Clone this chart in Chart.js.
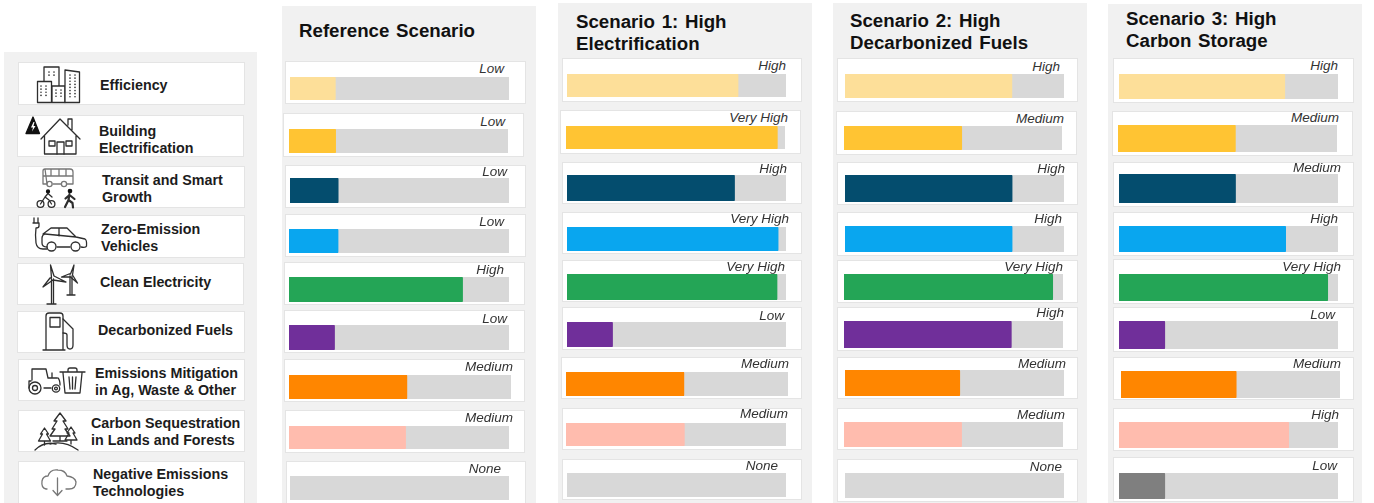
<!DOCTYPE html>
<html>
<head>
<meta charset="utf-8">
<script src="https://cdn.jsdelivr.net/npm/chart.js@4"></script>
<style>
  html, body { margin: 0; padding: 0; background: #fff; }
  body { position: relative; width: 1374px; height: 503px; overflow: hidden; font-family: "Liberation Sans", Arial, sans-serif; filter: blur(.4px); }
  .panel { position: absolute; background: #f1f1f1; }
  .card { position: absolute; box-sizing: border-box; background: #fff; border: 1.5px solid #e4e4e4; }
  .title { position: absolute; font-weight: bold; font-size: 18.7px; line-height: 22px; word-spacing: 1.5px; color: #111; white-space: pre; }
  .cat { position: absolute; font-weight: bold; font-size: 14.3px; line-height: 16.6px; color: #1c1c1c; white-space: pre; }
  .level { position: absolute; font-style: italic; font-size: 13.5px; line-height: 14px; color: #333; white-space: nowrap; transform: translateX(-100%); }
  canvas { position: absolute; }
  #icons { position: absolute; left: 0; top: 0; }
  #icons * { fill: none; stroke: #2e2e2e; stroke-width: 1.3; stroke-linejoin: round; stroke-linecap: round; }
  #icons .solid { fill: #111; stroke: #111; }
  #icons .bolt { fill: #fff; stroke: none; }
  #icons .white { fill: #fff; }
  #icons .dots { stroke-width: 1.6; stroke-dasharray: .1 3; }
  #icons .soft { stroke: #777; }
</style>
</head>
<body>
<script>
const categories = [
  'Efficiency', 'Building\nElectrification', 'Transit and Smart\nGrowth', 'Zero-Emission\nVehicles',
  'Clean Electricity', 'Decarbonized Fuels', 'Emissions Mitigation\nin Ag, Waste & Other',
  'Carbon Sequestration\nin Lands and Forests', 'Negative Emissions\nTechnologies'
];
const barColors = ['#fddf99', '#ffc433', '#044d6e', '#09a6ef', '#24a556', '#702f9a', '#ff8600', '#ffbcae', '#7f7f7f'];
const trackColor = '#d8d8d8';

const scenarioTitles = ['Reference Scenario', 'Scenario 1: High\nElectrification', 'Scenario 2: High\nDecarbonized Fuels', 'Scenario 3: High\nCarbon Storage'];

const refLevels = ['Low', 'Low', 'Low', 'Low', 'High', 'Low', 'Medium', 'Medium', 'None'];
const s1Levels = ['High', 'Very High', 'High', 'Very High', 'Very High', 'Low', 'Medium', 'Medium', 'None'];
const s2Levels = ['High', 'Medium', 'High', 'High', 'Very High', 'High', 'Medium', 'Medium', 'None'];
const s3Levels = ['High', 'Medium', 'Medium', 'High', 'Very High', 'Low', 'Medium', 'High', 'Low'];

// share of the grey track that is filled
const refValues = [20.7, 21.3, 22, 22.3, 78.9, 20.7, 53.1, 53, 0];
const s1Values = [78.1, 96.5, 76.5, 96.4, 95.9, 20.8, 53.1, 53.8, 0];
const s2Values = [76.2, 54, 76.3, 76.3, 95.3, 76.4, 52.4, 53.7, 0];
const s3Values = [75.7, 53.6, 53.2, 76.1, 95.3, 20.9, 52.6, 77.5, 20.9];
const trackMax = 100;

const allLevels = [refLevels, s1Levels, s2Levels, s3Levels];
const allValues = [refValues, s1Values, s2Values, s3Values];

// page layout only: panels, title spots, and for each row the card box, the plot box, the label anchor
const panelBoxes = [[282, 6, 536, 503], [558, 3, 812, 503], [833, 3, 1087, 503], [1108, 4, 1362, 503]];
const titleSpots = [[299, 20], [576, 11], [850, 10], [1126, 8]];
const rowBoxes = [
  [
    [285,61,526,104, 290,77,509,100, 504,69], [283,113,524,157, 289,129,508,153, 505,122],
    [285,165,526,208, 290,178,509,203, 507,172], [285,214,526,257, 289,229,509,253, 504,222],
    [284,262,525,305, 289,277,509,302, 504,270], [284,310,525,353, 289,325,509,350, 507,319],
    [284,359,525,402, 289,375,511,399, 513,367], [285,410,525,453, 289,426,509,449, 513,418],
    [286,461,526,510, 290,476,509,500, 501,469]
  ],
  [
    [562,58,802,102, 567,74,786,97, 786,66], [560,110,801,154, 566,126,785,149, 788,118],
    [562,162,802,204, 567,175,786,201, 787,169], [562,212,802,254, 567,227,786,251, 789,219],
    [562,260,802,302, 567,274,786,300, 785,267], [562,307,802,350, 567,322,786,347, 784,316],
    [561,357,802,399, 566,372,788,396, 789,364], [562,408,802,450, 566,423,786,446, 788,414],
    [562,459,802,500, 567,473,786,497, 778,466]
  ],
  [
    [837,58,1078,102, 845,74,1064,98, 1060,67], [836,111,1077,155, 844,126,1062,150, 1064,119],
    [837,162,1078,205, 845,175,1064,202, 1065,169], [837,212,1078,256, 845,226,1064,252, 1062,219],
    [837,260,1078,303, 844,274,1063,300, 1063,267], [837,307,1078,351, 844,321,1063,348, 1064,313],
    [837,357,1078,399, 845,370,1064,396, 1066,364], [837,408,1078,450, 844,422,1063,447, 1065,415],
    [837,459,1078,502, 845,473,1064,498, 1062,467]
  ],
  [
    [1113,58,1354,103, 1119,74,1338,99, 1338,66], [1112,111,1353,156, 1118,125,1337,152, 1339,118],
    [1113,162,1354,207, 1119,174,1338,203, 1341,168], [1113,212,1354,256, 1119,226,1338,252, 1338,219],
    [1113,259,1354,304, 1119,274,1338,301, 1341,267], [1113,307,1354,352, 1119,321,1338,349, 1335,315],
    [1113,357,1354,400, 1121,371,1340,398, 1341,364], [1113,408,1354,451, 1119,422,1338,448, 1339,415],
    [1113,457,1354,502, 1119,473,1338,499, 1337,466]
  ]
];
const catCards = [[18,62,245,105], [17,115,244,157], [18,166,245,208], [18,215,245,258], [17,263,244,305], [17,311,245,353], [18,359,245,401], [18,410,245,452], [18,461,245,510]];
const catText = [[100,77], [99,123], [102,172], [101,221], [100,274], [98,322], [95,365], [91,415], [93,466]];

function add(cls, left, top, width, height, text) {
  const d = document.createElement('div');
  d.className = cls;
  d.style.left = left + 'px';
  d.style.top = top + 'px';
  if (width !== null) d.style.width = width + 'px';
  if (height !== null) d.style.height = height + 'px';
  if (text) d.textContent = text;
  document.body.appendChild(d);
  return d;
}

function addBar(box, value, color, name) {
  const c = document.createElement('canvas');
  c.width = box[6] - box[4];
  c.height = box[7] - box[5];
  c.style.left = box[4] + 'px';
  c.style.top = box[5] + 'px';
  document.body.appendChild(c);
  new Chart(c, {
    type: 'bar',
    data: {
      labels: [name],
      datasets: [
        // "None" rows: an empty bar still leaves a dark sliver, so it stays hidden
        { data: [value], backgroundColor: color, borderRadius: 1.5, borderSkipped: false, order: 0, hidden: value === 0 },
        { data: [trackMax], backgroundColor: trackColor, borderRadius: 1, borderSkipped: false, order: 1 }
      ]
    },
    options: {
      indexAxis: 'y', responsive: false, animation: false,
      barPercentage: 1, categoryPercentage: 1,
      plugins: { legend: { display: false }, tooltip: { enabled: false } },
      scales: {
        x: { display: false, min: 0, max: trackMax },
        y: { display: false, stacked: true }
      }
    }
  });
}

add('panel', 4, 52, 253, 451);
catCards.forEach(b => add('card', b[0], b[1], b[2] - b[0], b[3] - b[1]));
categories.forEach((name, i) => add('cat', catText[i][0], catText[i][1], null, null, name));

scenarioTitles.forEach((title, p) => {
  const pb = panelBoxes[p];
  add('panel', pb[0], pb[1], pb[2] - pb[0], pb[3] - pb[1]);
  add('title', titleSpots[p][0], titleSpots[p][1], null, null, title);
  rowBoxes[p].forEach((box, i) => {
    add('card', box[0], box[1], box[2] - box[0], box[3] - box[1]);
    addBar(box, allValues[p][i], barColors[i], categories[i].replace('\n', ' '));
    add('level', box[8], box[9] - 7, null, null, allLevels[p][i]);
  });
});

// decorative icons of the left column
const icons = `<svg id="icons" width="1374" height="503" viewBox="0 0 1374 503" xmlns="http://www.w3.org/2000/svg">
  <g>
    <rect x="44" y="67" width="15" height="35"/><rect class="white" x="37.5" y="81.5" width="14" height="21"/>
    <rect class="white" x="52" y="86" width="13" height="16.5"/><path class="white" d="M65 70 L79.5 72 V102.5 H65 Z"/>
    <path class="dots" d="M49 72 V76 M54 72 V76 M41 86 V98 M46 86 V98 M56 90 V98 M61 90 V98 M70 75 V98 M75 75 V98"/>
  </g>
  <g>
    <path d="M41 139 L60 119 L80 139 M44.5 136 V154 H76 V136 M68 125 V119 H72 V130"/>
    <rect x="49" y="141" width="6" height="5"/><rect x="66" y="141" width="6" height="5"/>
    <path d="M57 154 V142 H64 V154"/>
    <path class="solid" d="M33 117 L39.5 133.5 H26 Z"/><path class="bolt" d="M33.5 122 L31 127.5 H33 L32 131.5 L35.5 126 H33.5 L34.5 122 Z"/>
  </g>
  <g>
    <path class="soft" d="M45 169 H70 Q73 169 73 172 V184 H67 M61 184 H53 M47 184 H43 V171 Q43 169 45 169 Z M43 176 H73 M51 169 V176 M59 169 V176 M66 169 V176"/>
    <circle class="soft" cx="49.5" cy="184" r="2.6"/><circle class="soft" cx="64" cy="184" r="2.6"/>
    <circle cx="40.5" cy="204" r="3.4"/><circle cx="51.5" cy="204" r="3.4"/>
    <path d="M40.5 204 L45 197 L49 200 L51.5 204 M45 197 L48 193.5 L52 197"/>
    <circle class="solid" cx="48" cy="191.5" r="1.5"/>
    <circle class="solid" cx="70" cy="191" r="1.7"/>
    <path style="stroke-width:2.2" d="M69.5 194 L68.5 200 L65 207 M68.5 200 L72.5 203 L73 207.5 M69.5 195 L65.5 198.5 M69.5 195 L74.5 199"/>
  </g>
  <g>
    <path d="M34 223 V218 M38 223 V218 M33 223 H39 V226 Q39 228 36 228 Q35 235 36 243 Q37 249 43 249 H47"/>
    <path d="M43 234 L51 228 H67 L76 237 L85 239 Q87 240 86.5 246 Q86 248 81 247 M70 247 H57 M47 247 Q42 247 42 243 V238 Q42 235 45 234 L76 237 M59 228 V236"/>
    <circle cx="51.5" cy="246.5" r="4.5"/><circle cx="75.5" cy="246.5" r="4.5"/>
  </g>
  <g>
    <path d="M51.5 279 V304 M47 304 H56 M53.5 279 V304"/>
    <path d="M51.5 278 L50.5 265 L54 276 L66 282 L53 280 L43 287 L50 278 Z"/>
    <path d="M70 276 V295 M72 276 V295 M67 295 H75"/>
    <path d="M70.5 274 L74 265 L72.5 275 L77.5 283 L70.5 277 L61.5 277 L69 274 Z"/>
  </g>
  <g>
    <path d="M46 350 V316 Q46 313 49 313 H60 Q63 313 63 316 V350 M43 350 H65"/>
    <rect x="50" y="317.5" width="10" height="9.5"/>
    <path d="M63 319 L73 329 V345 Q73 349 70 349 Q67 349 67 345 V335 Q67 333 63 333"/>
  </g>
  <g>
    <path d="M32 380 V369 H46 L48 378 H57 M52 373 V378 M31 381 H29 V388 M44 388 H51 M58 378 Q60 380 60 385"/>
    <circle cx="35" cy="388" r="6"/><circle cx="35" cy="388" r="2.5"/>
    <circle cx="56" cy="388.5" r="3.7"/><circle cx="56" cy="388.5" r="1.4"/>
    <path d="M60 372 H85 M68 372 V370 Q68 368 70 368 H75 Q77 368 77 370 V372 M63 373 L65 393 H80 L82 373 M69 377 L70 389 M72.5 377 V389 M76 377 L75 389"/>
  </g>
  <g>
    <path d="M60 413 L54 421 H57 L52 429 H55 L50 436 H70 L65 429 H68 L63 421 H66 Z M60 436 V441 M53 441 H67"/>
    <path d="M44.5 428 L40.5 434 H42.5 L38.5 441 H50.5 L46.5 434 H48.5 Z M44.5 441 V445"/>
    <path d="M71 427 L67 433 H69 L65 440 H77 L73 433 H75 Z M71 440 V444"/>
    <path d="M35 450 Q44 441 56 444 M50 444 Q64 440 78 450"/>
  </g>
  <g>
    <path class="soft" d="M47 489 H46 Q41 488 42 481 Q43 476 48 476 Q50 469 58 470 Q65 470 67 476 Q75 477 76 482 Q76 489 69 489 H66"/>
    <path class="soft" d="M57.5 478 V495 M53 490.5 L57.5 495.5 L62 490.5"/>
  </g>
</svg>`;
document.body.insertAdjacentHTML('beforeend', icons);
</script>
</body>
</html>
